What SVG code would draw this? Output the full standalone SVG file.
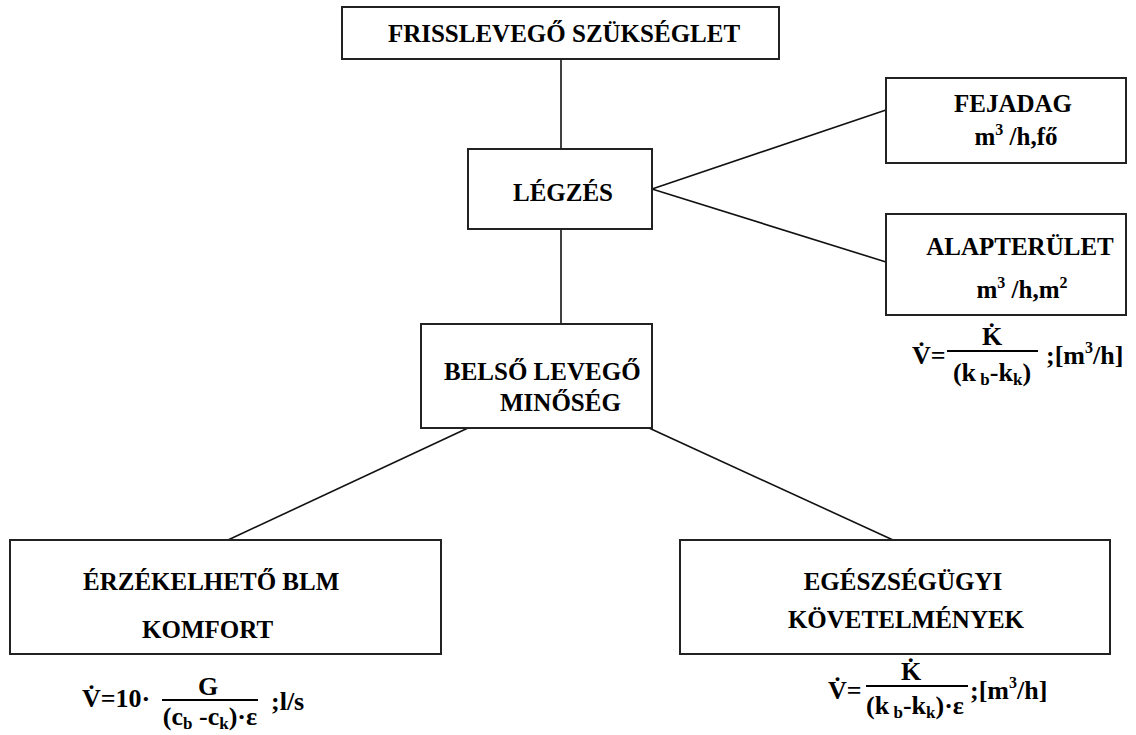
<svg xmlns="http://www.w3.org/2000/svg" width="1136" height="735" viewBox="0 0 1136 735">
<style>
.box{fill:#fff;stroke:#222;stroke-width:2}
.t{font-family:"Liberation Serif","Times New Roman",serif;font-weight:bold;font-size:25px;fill:#000}
.c{text-anchor:middle}
.f{font-family:"Liberation Serif","Times New Roman",serif;font-weight:bold;font-size:26px;fill:#000}
.s{font-size:16px}
.fs{font-size:17px}
.conn line{stroke:#111;stroke-width:1.6}
.bar{stroke:#000;stroke-width:2}
</style>
<rect width="1136" height="735" fill="#fff"/>
<g id="connectors" class="conn">
<line x1="561" y1="59" x2="561" y2="149"/>
<line x1="561" y1="229" x2="561" y2="324"/>
<line x1="652" y1="189" x2="886" y2="110"/>
<line x1="652" y1="189" x2="886" y2="262"/>
<line x1="468" y1="428" x2="228" y2="540"/>
<line x1="649" y1="428" x2="893" y2="540"/>
</g>
<g id="frisslevego">
<rect class="box" x="342" y="7" width="437" height="52"/>
<text class="t c" x="564" y="42">FRISSLEVEGŐ SZÜKSÉGLET</text>
</g>
<g id="legzes">
<rect class="box" x="468" y="149" width="184" height="80"/>
<text class="t c" x="563" y="201">LÉGZÉS</text>
</g>
<g id="fejadag">
<rect class="box" x="886" y="78" width="240" height="85"/>
<text class="t c" x="1013" y="112">FEJADAG</text>
<text class="t c" x="1016" y="145">m<tspan class="s" dy="-10">3</tspan><tspan dy="10"> /h,fő</tspan></text>
</g>
<g id="alapterulet">
<rect class="box" x="886" y="214" width="240" height="101"/>
<text class="t c" x="1020" y="255">ALAPTERÜLET</text>
<text class="t c" x="1022" y="298">m<tspan class="s" dy="-10">3</tspan><tspan dy="10"> /h,m</tspan><tspan class="s" dy="-10">2</tspan></text>
</g>
<g id="formula-alap">
<text class="f" x="912" y="364">V̇=</text>
<line class="bar" x1="947" y1="351" x2="1038" y2="351"/>
<text class="f c" x="992" y="345">K̇</text>
<text class="f c" x="992" y="381">(k<tspan class="fs" dy="4"> b</tspan><tspan dy="-4">-k</tspan><tspan class="fs" dy="4">k</tspan><tspan dy="-4">)</tspan></text>
<text class="f" x="1046" y="364">;[m<tspan class="s" dy="-11">3</tspan><tspan dy="11">/h]</tspan></text>
</g>
<g id="belso">
<rect class="box" x="421" y="324" width="231" height="104"/>
<text class="t" x="444" y="380">BELSŐ LEVEGŐ</text>
<text class="t" x="500" y="411">MINŐSÉG</text>
</g>
<g id="erzekelheto">
<rect class="box" x="10" y="540" width="431" height="114"/>
<text class="t" x="83" y="590">ÉRZÉKELHETŐ BLM</text>
<text class="t" x="142" y="638">KOMFORT</text>
</g>
<g id="egeszsegugyi">
<rect class="box" x="680" y="540" width="430" height="114"/>
<text class="t c" x="903" y="590">EGÉSZSÉGÜGYI</text>
<text class="t c" x="906" y="628">KÖVETELMÉNYEK</text>
</g>
<g id="formula-komfort">
<text class="f" x="82" y="707">V̇=10·</text>
<line class="bar" x1="162" y1="700" x2="258" y2="700"/>
<text class="f c" x="208" y="695">G</text>
<text class="f c" x="210" y="725">(c<tspan class="fs" dy="4">b</tspan><tspan dy="-4"> -c</tspan><tspan class="fs" dy="4">k</tspan><tspan dy="-4">)·ε</tspan></text>
<text class="f" x="271" y="710">;l/s</text>
</g>
<g id="formula-egeszseg">
<text class="f" x="828" y="699">V̇=</text>
<line class="bar" x1="866" y1="686" x2="968" y2="686"/>
<text class="f c" x="911" y="680">K̇</text>
<text class="f c" x="915" y="714">(k<tspan class="fs" dy="4"> b</tspan><tspan dy="-4">-k</tspan><tspan class="fs" dy="4">k</tspan><tspan dy="-4">)·ε</tspan></text>
<text class="f" x="970" y="699">;[m<tspan class="s" dy="-11">3</tspan><tspan dy="11">/h]</tspan></text>
</g>
</svg>
